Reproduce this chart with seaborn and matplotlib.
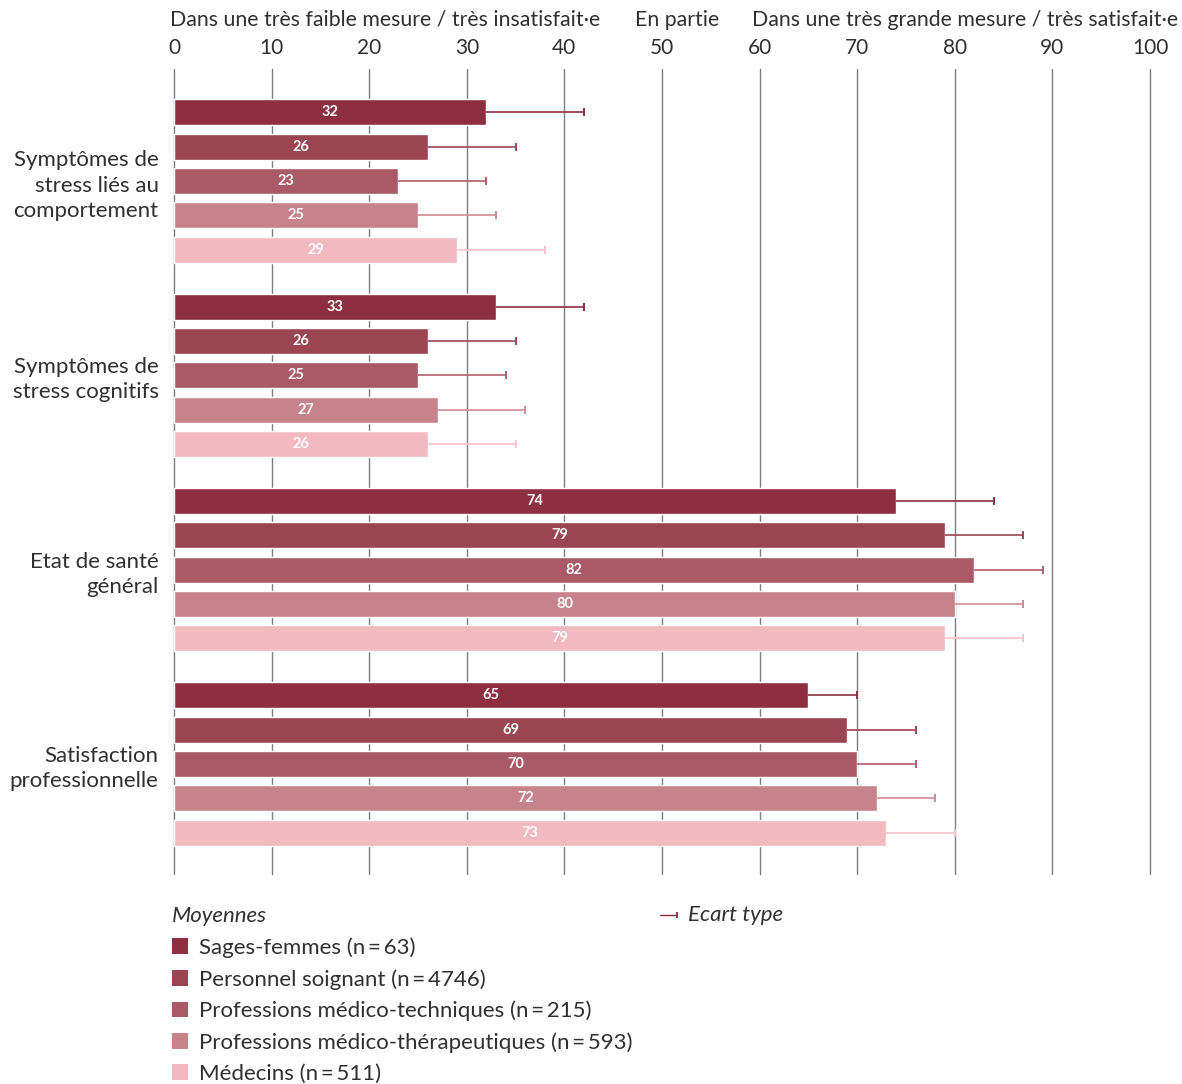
import pandas as pd
import numpy as np
import matplotlib.pyplot as plt
import seaborn as sns
from matplotlib.lines import Line2D
from matplotlib.patches import Patch

# Chart data
CATEGORIES = [
    "Symptômes de\nstress liés au\ncomportement",
    "Symptômes de\nstress cognitifs",
    "Etat de santé\ngénéral",
    "Satisfaction\nprofessionnelle",
]
GROUPS = [
    "Sages-femmes (n\u2009=\u200963)",
    "Personnel soignant (n\u2009=\u20094746)",
    "Professions médico-techniques (n\u2009=\u2009215)",
    "Professions médico-thérapeutiques (n\u2009=\u2009593)",
    "Médecins (n\u2009=\u2009511)",
]
MEANS_SAGES = [32, 33, 74, 65]
MEANS_SOIGNANT = [26, 26, 79, 69]
MEANS_TECHN = [23, 25, 82, 70]
MEANS_THERA = [25, 27, 80, 72]
MEANS_MEDECINS = [29, 26, 79, 73]

SD_SAGES = [10, 9, 10, 5]
SD_SOIGNANT = [9, 9, 8, 7]
SD_TECHN = [9, 9, 7, 6]
SD_THERA = [8, 9, 7, 6]
SD_MEDECINS = [9, 9, 8, 7]

TICKS = [0, 10, 20, 30, 40, 50, 60, 70, 80, 90, 100]
HEADERS = [
    ("Dans une très faible mesure / très insatisfait·e", -0.4, "left"),
    ("En partie", 51.5, "center"),
    ("Dans une très grande mesure / très satisfait·e", 102.9, "right"),
]

COLORS = ["#8e2f41", "#9b4552", "#a95a66", "#c6838b", "#f2bac0"]
ERR_COLORS = ["#8e2f41", "#9b4552", "#b0606b", "#cf8c94", "#f4c4c8"]
TEXT_COLOR = "#303030"

means = [MEANS_SAGES, MEANS_SOIGNANT, MEANS_TECHN, MEANS_THERA, MEANS_MEDECINS]
sds = [SD_SAGES, SD_SOIGNANT, SD_TECHN, SD_THERA, SD_MEDECINS]

rows = []
for g, m, s in zip(GROUPS, means, sds):
    for c, v, e in zip(CATEGORIES, m, s):
        rows.append({"Categorie": c, "Groupe": g, "Moyenne": v, "SD": e})
df = pd.DataFrame(rows)

sns.set_theme(style="white")
plt.rcParams['font.family'] = ['Lato', 'DejaVu Sans']

W, H = 1182, 1084
fig = plt.figure(figsize=(W / 100, H / 100), dpi=100)
fig.subplots_adjust(left=174 / W, right=1150 / W, top=1 - 69 / H, bottom=1 - 874 / H)
ax = fig.add_subplot(111)

sns.barplot(data=df, y="Categorie", x="Moyenne", hue="Groupe", order=CATEGORIES,
            hue_order=GROUPS, palette=COLORS, orient="h", width=0.884, gap=0.24,
            saturation=1, legend=False, ax=ax, errorbar=None)

# error bars (one-sided, to the right) and value labels
bar_containers = list(ax.containers)
for i, cont in enumerate(bar_containers):
    sub = df[df["Groupe"] == GROUPS[i]].set_index("Categorie").loc[CATEGORIES]
    ys = [b.get_y() + b.get_height() / 2 for b in cont]
    xs = [b.get_width() for b in cont]
    eb = ax.errorbar(xs, ys, xerr=[np.zeros(len(xs)), sub["SD"].values], fmt="none",
                     ecolor=ERR_COLORS[i], elinewidth=1.2, capsize=2.6, capthick=1.4,
                     zorder=1)
    # only keep the cap at the far end of each bar
    for cap in eb[1]:
        if np.allclose(cap.get_xdata(), xs):
            cap.set_visible(False)
    ax.bar_label(cont, labels=[str(v) for v in sub["Moyenne"]], label_type="center",
                 color="white", fontweight="bold", fontsize=10.5)

ax.set_xlim(0, 100)
ax.set_ylim(3.566, -0.576)
ax.set_xticks(TICKS)
ax.set_yticks(range(len(CATEGORIES)), labels=CATEGORIES, linespacing=1.32)
ax.xaxis.tick_top()
ax.tick_params(axis="x", length=0, pad=8, labelsize=15, labelcolor=TEXT_COLOR)
ax.tick_params(axis="y", length=0, pad=11, labelsize=16, labelcolor=TEXT_COLOR)
ax.set_xlabel("")
ax.set_ylabel("")
ax.grid(axis="x", color="#7d7d7d", linewidth=1.0)
ax.grid(axis="y", visible=False)
for gl in ax.get_xgridlines():
    gl.set_clip_on(False)
ax.set_axisbelow(True)
sns.despine(ax=ax, left=True, bottom=True, top=True, right=True)

for txt, xpos, ha in HEADERS:
    ax.text(xpos, 1.061, txt, transform=ax.get_xaxis_transform(), ha=ha, va="center",
            fontsize=15.3, color=TEXT_COLOR)

# legend
handles = [Patch(facecolor=c, edgecolor="none") for c in COLORS]
leg = fig.legend(handles, GROUPS, loc="upper left", bbox_to_anchor=(161 / W, 1 - 895 / H),
                 frameon=False, fontsize=16, title="Moyennes", title_fontsize=16,
                 alignment="left", handlelength=0.72, handleheight=0.72,
                 handletextpad=0.5, labelspacing=0.5, borderpad=0)
leg.get_title().set_fontstyle("italic")
leg.get_title().set_color(TEXT_COLOR)
for t in leg.get_texts():
    t.set_color(TEXT_COLOR)

# standard deviation key
ey = 1 - 915 / H
fig.add_artist(Line2D([660 / W, 677 / W], [ey, ey], transform=fig.transFigure,
                      color=COLORS[0], linewidth=1.0))
fig.add_artist(Line2D([677 / W], [ey], transform=fig.transFigure, color=COLORS[0],
                      marker="|", markersize=5, markeredgewidth=1.3))
fig.text(688 / W, ey, "Ecart type", ha="left", va="center", fontsize=16,
         fontstyle="italic", color=TEXT_COLOR)

fig.savefig("out.png", dpi=100, facecolor="white")
